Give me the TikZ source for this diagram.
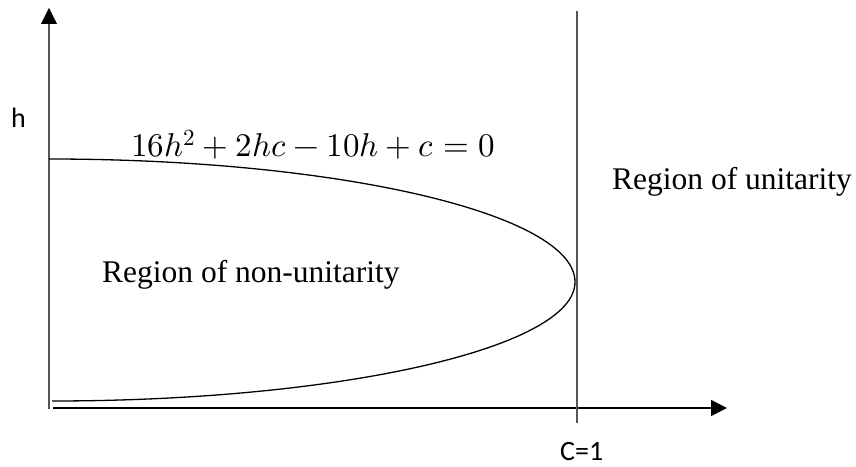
\documentclass[tikz,border=0pt]{standalone}
\usepackage{fontspec}
\usepackage{unicode-math}
\setmainfont{Liberation Serif}
\setmathfont{Latin Modern Math}
\newfontfamily\calfont{Carlito}
\usetikzlibrary{arrows.meta}
\definecolor{axisgray}{HTML}{555555}
\tikzset{
  axisline/.style={line width=2pt, draw=axisgray},
  haxis/.style={line width=1.5pt, draw=black},
  curveline/.style={line width=1.3pt, draw=black},
  bigtip/.style={-{Triangle[length=16pt,width=16pt]}},
  serifbig/.style={inner sep=0pt, anchor=base west, font=\fontsize{31.5}{36}\selectfont},
  sanslabel/.style={inner sep=0pt, anchor=base west, font=\calfont\fontsize{28}{32}\selectfont},
}
\begin{document}
\begin{tikzpicture}[x=1pt,y=1pt]
\useasboundingbox (0,0) rectangle (856,466);
% axes
\coordinate (vbot) at (49,57);
\coordinate (vtop) at (49,442);
\coordinate (vtip) at (49,458);
\coordinate (hleft) at (53,58);
\coordinate (hright) at (727,58);
\coordinate (ltop) at (577,455);
\coordinate (lbot) at (577,43);
\draw[axisline] (vbot) -- (vtop);
\fill[black] (vtip) -- (41,442) -- (57,442) -- cycle;
\draw[haxis, bigtip] (hleft) -- (hright);
\draw[axisline] (ltop) -- (lbot);
% curve
\coordinate (cstart) at (49,307);
\draw[curveline] (cstart) arc[start angle=90, end angle=0, x radius=526, y radius=123]
  arc[start angle=0, end angle=-90, x radius=523, y radius=119];
% labels
\node[sanslabel] (hlab) at (11,338) {h};
\node[inner sep=0pt, anchor=base west, font=\fontsize{33}{38}\selectfont] (eq) at (131,309) {$16h^2+2hc-10h+c=0$};
\node[serifbig] (unit) at (612,276) {Region of unitarity};
\node[serifbig] (nonunit) at (102,183) {Region of non-unitarity};
\node[sanslabel] (c1) at (560,6) {C=1};
\end{tikzpicture}
\end{document}
